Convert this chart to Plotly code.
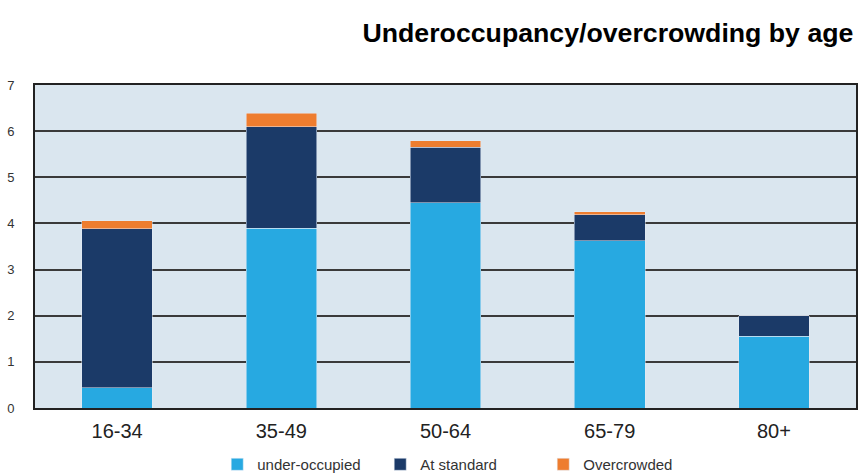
import plotly.graph_objects as go

categories = ["16-34", "35-49", "50-64", "65-79", "80+"]
under_occupied = [0.44, 3.90, 4.45, 3.62, 1.56]
at_standard = [3.44, 2.19, 1.20, 0.57, 0.44]
overcrowded = [0.18, 0.30, 0.14, 0.06, 0.0]
y_ticks = [0, 1, 2, 3, 4, 5, 6, 7]

fig = go.Figure()
fig.add_bar(x=categories, y=under_occupied, name="under-occupied", marker_color="#27a9e1")
fig.add_bar(x=categories, y=at_standard, name="At standard", marker_color="#1b3a68")
fig.add_bar(x=categories, y=overcrowded, name="Overcrowded", marker_color="#ee7d2f")

font = "Liberation Sans, Arial, sans-serif"
fig.update_layout(
    barmode="stack",
    bargap=0.57,
    width=862, height=474,
    margin=dict(l=35, r=6, t=85, b=66, autoexpand=False),
    paper_bgcolor="white",
    plot_bgcolor="#dae6ef",
    font=dict(family=font, color="#333333"),
    title=dict(text="<b>Underoccupancy/overcrowding by age</b>", x=0.99, xanchor="right",
               y=0.932, yanchor="middle", font=dict(size=26.7, color="#000000", family=font)),
    legend=dict(orientation="h", xref="container", x=0.252, xanchor="left",
                yref="container", y=0.02, yanchor="middle",
                font=dict(size=15, color="#333333"), traceorder="normal",
                itemwidth=30, entrywidth=118, entrywidthmode="pixels"),
    showlegend=True,
)
fig.update_xaxes(showline=True, linecolor="#222222", linewidth=2, mirror=True,
                 tickfont=dict(size=20, color="#222222"), ticks="", showgrid=False,
                 ticklabelstandoff=4)
fig.update_yaxes(range=[0, 7], tickvals=y_ticks, showline=True, linecolor="#222222", linewidth=2,
                 mirror=True, showgrid=True, gridcolor="#3a3a3a", gridwidth=1.5,
                 tickfont=dict(size=13, color="#333333"), ticks="", ticklabelstandoff=16,
                 zeroline=False)
fig.write_html("out.html")
